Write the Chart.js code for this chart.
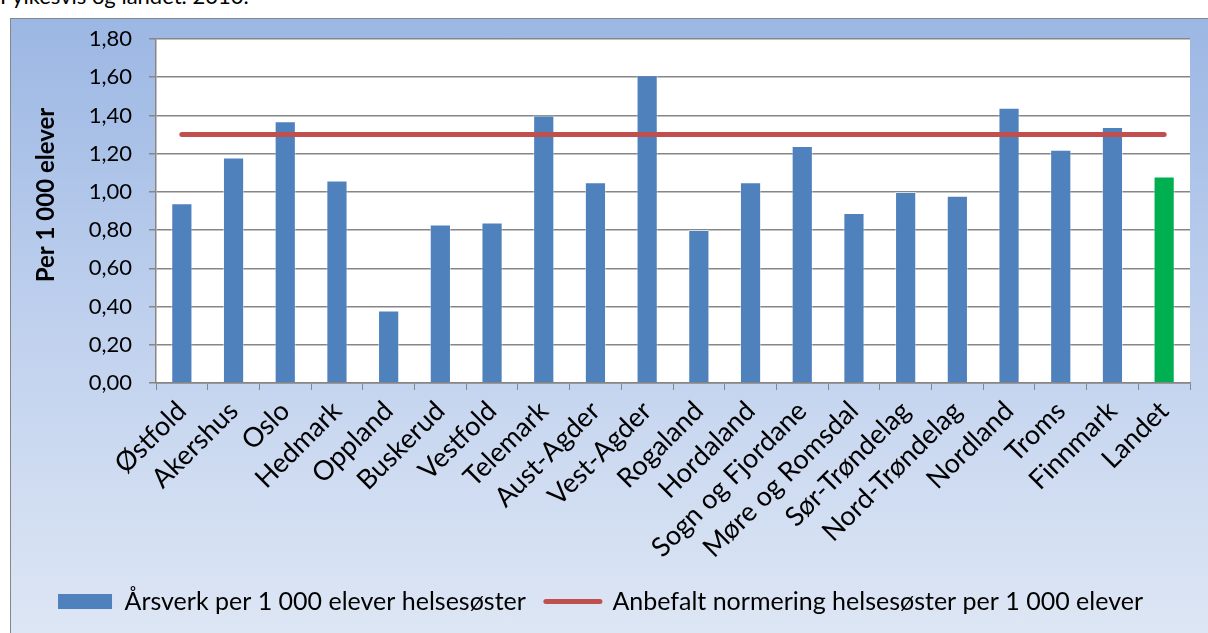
<!DOCTYPE html>
<html>
<head>
<meta charset="utf-8">
<script src="https://cdn.jsdelivr.net/npm/chart.js@4/dist/chart.umd.min.js"></script>
<style>
  html, body { margin: 0; padding: 0; background: #fff; overflow: hidden; }
  body { width: 1208px; height: 633px; position: relative; font-family: Lato, "Open Sans", sans-serif; }
  #caption { position: absolute; left: 0; top: -15px; font-size: 22px; line-height: 22px; color: #000; white-space: nowrap; }
  #frame {
    position: absolute; left: 10px; top: 18px; width: 1198px; height: 615px;
    border-left: 1px solid #868686; border-top: 1px solid #868686;
    background: linear-gradient(to bottom, #9bb7e3 0%, #c0d1ee 50%, #dde6f4 100%);
  }
  canvas { display: block; }
</style>
</head>
<body>
<div id="caption">Fylkesvis og landet. 2010.</div>
<div id="frame"><canvas id="chart" width="1197" height="614"></canvas></div>

<script>
// ----------------------------
// Data
// ----------------------------
const counties = [
  "Østfold", "Akershus", "Oslo", "Hedmark", "Oppland", "Buskerud", "Vestfold",
  "Telemark", "Aust-Agder", "Vest-Agder", "Rogaland", "Hordaland", "Sogn og Fjordane",
  "Møre og Romsdal", "Sør-Trøndelag", "Nord-Trøndelag", "Nordland", "Troms",
  "Finnmark", "Landet"
];
const perThousand = [
  0.94, 1.18, 1.37, 1.06, 0.38, 0.83, 0.84,
  1.40, 1.05, 1.61, 0.80, 1.05, 1.24,
  0.89, 1.00, 0.98, 1.44, 1.22,
  1.34, 1.08
];
const recommended = [
  1.30, 1.30, 1.30, 1.30, 1.30, 1.30, 1.30,
  1.30, 1.30, 1.30, 1.30, 1.30, 1.30,
  1.30, 1.30, 1.30, 1.30, 1.30,
  1.30, 1.30
];
const barLabel = "Årsverk per 1 000 elever helsesøster";
const lineLabel = "Anbefalt normering helsesøster per 1 000 elever";
const yTitle = "Per 1 000 elever";

// ----------------------------
// Colours
// ----------------------------
const blue = "#4f81bd";
const green = "#00b050";
const red = "#c0504d";
const gridGray = "#868686";

const barColors = counties.map(c => c === "Landet" ? green : blue);

// white plot area
const plotBackground = {
  id: "plotBackground",
  beforeDraw(chart) {
    const { ctx, chartArea: a } = chart;
    ctx.save();
    ctx.fillStyle = "#ffffff";
    ctx.fillRect(a.left, a.top, a.right - a.left, a.bottom - a.top);
    ctx.restore();
  }
};

// y axis title, sitting a bit above the middle like in Excel
const yAxisTitle = {
  id: "yAxisTitle",
  afterDraw(chart) {
    const { ctx, chartArea: a } = chart;
    ctx.save();
    ctx.translate(35, (a.top + a.bottom) / 2 - 16);
    ctx.rotate(-Math.PI / 2);
    ctx.font = "bold 24px Lato";
    ctx.fillStyle = "#000";
    ctx.textAlign = "center";
    ctx.textBaseline = "middle";
    ctx.fillText(yTitle, 0, 0);
    ctx.restore();
  }
};

// ----------------------------
// Chart
// ----------------------------
const ctx = document.getElementById("chart").getContext("2d");
new Chart(ctx, {
  data: {
    labels: counties,
    datasets: [
      {
        type: "line",
        label: lineLabel,
        data: recommended,
        borderColor: red,
        backgroundColor: red,
        borderWidth: 5,
        borderCapStyle: "round",
        pointRadius: 0,
        order: 0
      },
      {
        type: "bar",
        label: barLabel,
        data: perThousand,
        backgroundColor: barColors,
        borderColor: "rgba(255,255,255,0.45)",
        borderWidth: 1,
        barPercentage: 0.41,
        categoryPercentage: 1.0,
        order: 1
      }
    ]
  },
  options: {
    responsive: false,
    devicePixelRatio: 1,
    animation: false,
    layout: { padding: { top: 20, right: 18, bottom: 9, left: 0 } },
    plugins: {
      tooltip: { enabled: false },
      legend: {
        position: "bottom",
        labels: {
          color: "#000",
          font: { family: "Lato", size: 25 },
          usePointStyle: true,
          pointStyleWidth: 54,
          boxHeight: 15,
          padding: 20,
          generateLabels: () => [
            { text: barLabel, fillStyle: blue, strokeStyle: blue, lineWidth: 0, pointStyle: "rect", datasetIndex: 1, hidden: false },
            { text: lineLabel, fillStyle: red, strokeStyle: red, lineWidth: 5, lineCap: "round", pointStyle: "line", datasetIndex: 0, hidden: false }
          ]
        }
      }
    },
    scales: {
      x: {
        offset: true,
        grid: { drawOnChartArea: false, color: gridGray, tickLength: 7, offset: true },
        border: { color: gridGray, width: 1.5 },
        ticks: {
          color: "#000",
          font: { family: "Lato", size: 27 },
          minRotation: 45,
          maxRotation: 45,
          padding: 5,
          autoSkip: false
        },
        afterFit(scale) { scale.height = 186; }
      },
      y: {
        min: 0,
        max: 1.8,
        grid: { color: gridGray, lineWidth: 1.5, tickLength: 7 },
        border: { color: gridGray, width: 1.5 },
        ticks: {
          stepSize: 0.2,
          color: "#000",
          font: { family: "Lato", size: 22 },
          padding: 17,
          callback: v => v.toFixed(2).replace(".", ",")
        },
        afterFit(scale) {
          scale.width = 145;
          scale.paddingTop = 0;
        }
      }
    }
  },
  plugins: [plotBackground, yAxisTitle]
});
</script>
</body>
</html>
